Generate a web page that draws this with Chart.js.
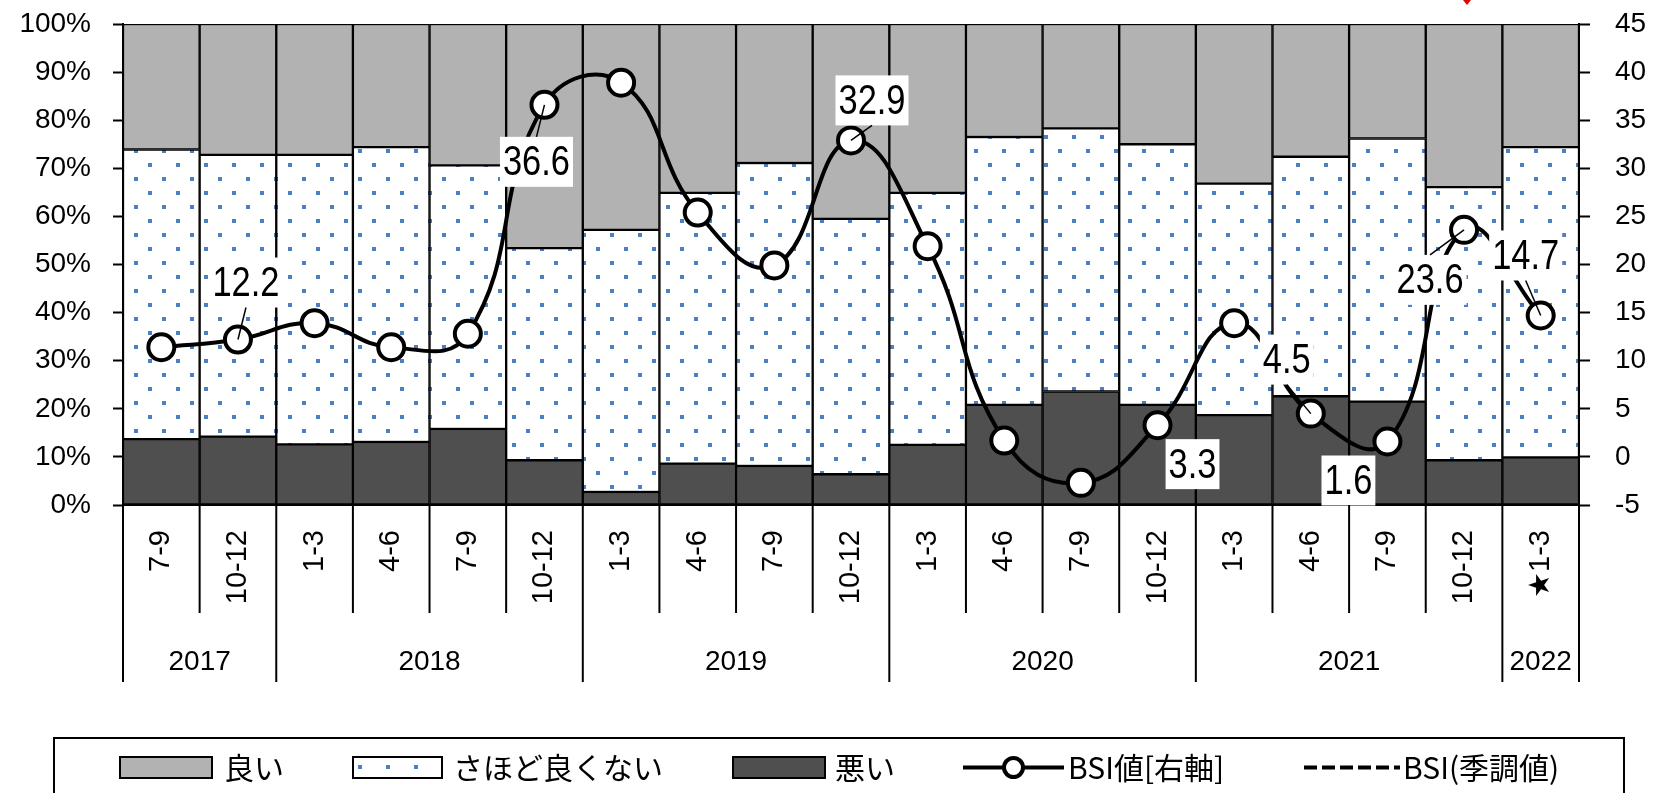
<!DOCTYPE html>
<html><head><meta charset="utf-8">
<script src="https://cdn.jsdelivr.net/npm/chart.js@4.4.1/dist/chart.umd.min.js"></script>
<style>html,body{margin:0;padding:0;background:#fff;}#wrap{width:1653px;height:793px;position:relative;}</style>
</head><body><div id="wrap"><canvas id="c"></canvas></div>
<script>
// ---- data ----
const quarters = ['7-9','10-12','1-3','4-6','7-9','10-12','1-3','4-6','7-9','10-12','1-3','4-6','7-9','10-12','1-3','4-6','7-9','10-12','★1-3'];
const yearLabels = ['2017','2018','2019','2020','2021','2022'];
const yearSpans = [2,4,4,4,4,1];
const badPct     = [13.7,14.2,12.6,13.1,15.8, 9.3, 2.7, 8.6, 8.1, 6.4,12.5,20.8,23.6,20.8,18.7,22.6,21.5, 9.3, 9.9];
const notGoodPct = [60.2,58.6,60.2,61.3,54.8,44.1,54.5,56.3,63.0,53.1,52.4,55.7,54.7,54.2,48.1,49.8,54.7,56.8,64.5];
const goodPct    = [26.1,27.2,27.2,25.6,29.4,46.6,42.8,35.1,28.9,40.5,35.1,23.5,21.7,25.0,33.2,27.6,23.8,33.9,25.6];
const bsi        = [11.4,12.2,13.9,11.4,12.8,36.6,38.9,25.4,19.9,32.9,21.9, 1.7,-2.7, 3.3,13.9, 4.5, 1.6,23.6,14.7];
const bsiSA      = [null,null,null,null,null,null,null,null,null,null,null,null,null,null,null,null,null,null,null];
const labeledPoints = [1,5,9,13,15,16,17,18];
const seriesNames = {good:'良い', notGood:'さほど良くない', bad:'悪い', bsi:'BSI値[右軸]', bsiSA:'BSI(季調値)'};

// ---- label placement (offset of label box centre from its point) ----
const labelPlacement = {
  1:{dx:8,dy:-57,leader:true}, 5:{dx:-8,dy:57,leader:true}, 9:{dx:21,dy:-40,leader:true},
  13:{dx:35,dy:39,leader:false}, 15:{dx:-24,dy:-54,leader:true}, 16:{dx:-39,dy:39,leader:false},
  17:{dx:-34,dy:50,leader:true}, 18:{dx:-15,dy:-60,leader:true}
};

const COL_GOOD='#b2b2b2', COL_BAD='#4f4f4f', COL_DOT='#4f7fc0';
function makeDots(){
  const c=document.createElement('canvas'); c.width=28; c.height=28;
  const x=c.getContext('2d'); x.fillStyle='#fff'; x.fillRect(0,0,28,28);
  x.fillStyle=COL_DOT; x.fillRect(22,9,4,4); x.fillRect(8,23,4,4);
  return x.createPattern(c,'repeat');
}
const dots = makeDots();

const LABEL_FONT = '42px "Liberation Sans"';
const LABEL_SX = 0.82;

const valueLabels = {id:'valueLabels', afterDatasetsDraw(chart){
  const ctx=chart.ctx, meta=chart.getDatasetMeta(3);
  ctx.save();
  labeledPoints.forEach(idx=>{
    const p=meta.data[idx], pl=labelPlacement[idx];
    const text=bsi[idx].toFixed(1);
    ctx.font=LABEL_FONT;
    const tw=ctx.measureText(text).width*LABEL_SX;
    const cx=p.x+pl.dx, cy=p.y+pl.dy, bw=tw+6, bh=50;
    ctx.fillStyle='#fff'; ctx.fillRect(cx-bw/2,cy-bh/2,bw,bh);
    ctx.save(); ctx.translate(cx,cy+2); ctx.scale(LABEL_SX,1);
    ctx.fillStyle='#000'; ctx.textAlign='center'; ctx.textBaseline='middle';
    ctx.fillText(text,0,0); ctx.restore();
    if(pl.leader){
      const ey = p.y<cy ? cy-bh/2 : cy+bh/2;
      ctx.strokeStyle='#000'; ctx.lineWidth=1.5;
      ctx.beginPath(); ctx.moveTo(p.x,p.y); ctx.lineTo(cx,ey); ctx.stroke();
    }
  });
  ctx.restore();
}};

const decor = {id:'decor', afterDraw(chart){
  const ctx=chart.ctx, xs=chart.scales.x, area=chart.chartArea;
  const w=xs.getPixelForValue(1)-xs.getPixelForValue(0);
  const x0=xs.getPixelForValue(0)-w/2;
  const yb=new Set(); let k=0; yb.add(0); yearSpans.forEach(s=>{k+=s; yb.add(k);});
  ctx.save();
  ctx.strokeStyle='#000'; ctx.lineWidth=2;
  for(let i=0;i<=quarters.length;i++){
    const x=x0+i*w; const len=yb.has(i)?177:108;
    ctx.beginPath(); ctx.moveTo(x,area.bottom); ctx.lineTo(x,area.bottom+len); ctx.stroke();
  }
  ctx.fillStyle='#000'; ctx.font='28px "Liberation Sans"'; ctx.textAlign='center'; ctx.textBaseline='middle';
  let s=0;
  yearLabels.forEach((y,j)=>{ const xa=x0+s*w, xe=x0+(s+yearSpans[j])*w; ctx.fillText(y,(xa+xe)/2,area.bottom+157); s+=yearSpans[j]; });
  // red mark at top (cut-off annotation)
  ctx.fillStyle='#e00000'; ctx.beginPath(); ctx.moveTo(1463,0); ctx.lineTo(1471,0); ctx.lineTo(1467,5); ctx.closePath(); ctx.fill();
  // legend
  const L=54, T=738, R=1624;
  ctx.lineWidth=2; ctx.strokeStyle='#000'; ctx.strokeRect(L,T,R-L,120);
  const cy=767.5;
  ctx.font='30px "Noto Sans CJK JP"'; ctx.textAlign='left'; ctx.textBaseline='middle';
  function box(x1,x2,fill,label,tx){
    ctx.fillStyle=fill; ctx.fillRect(x1,757,x2-x1,21);
    ctx.lineWidth=2; ctx.strokeStyle='#000'; ctx.strokeRect(x1,757,x2-x1,21);
    ctx.fillStyle='#000'; ctx.fillText(label,tx,cy);
  }
  box(120,212,COL_GOOD,seriesNames.good,224);
  box(353,442,dots,seriesNames.notGood,453);
  box(733,825,COL_BAD,seriesNames.bad,835);
  ctx.strokeStyle='#000'; ctx.lineWidth=4;
  ctx.beginPath(); ctx.moveTo(963,cy); ctx.lineTo(1064,cy); ctx.stroke();
  ctx.beginPath(); ctx.arc(1013.5,cy,9.5,0,Math.PI*2); ctx.fillStyle='#fff'; ctx.fill(); ctx.stroke();
  ctx.fillStyle='#000'; ctx.fillText(seriesNames.bsi,1068,cy);
  ctx.setLineDash([13,5]); ctx.beginPath(); ctx.moveTo(1304,cy); ctx.lineTo(1400,cy); ctx.stroke(); ctx.setLineDash([]);
  ctx.fillText(seriesNames.bsiSA,1403,cy);
  ctx.restore();
}};

function noPad(s){ s.paddingTop=0; s.paddingBottom=0; s.paddingLeft=0; s.paddingRight=0; }
const barCommon = {borderColor:'#000', borderWidth:1.5, borderSkipped:false, barPercentage:1, categoryPercentage:1, yAxisID:'y', order:1};
new Chart(document.getElementById('c'), {
  type:'bar',
  data:{ labels:quarters, datasets:[
    Object.assign({label:seriesNames.bad, data:badPct, backgroundColor:COL_BAD}, barCommon),
    Object.assign({label:seriesNames.notGood, data:notGoodPct, backgroundColor:dots}, barCommon),
    Object.assign({label:seriesNames.good, data:goodPct, backgroundColor:COL_GOOD}, barCommon),
    {type:'line', label:seriesNames.bsi, data:bsi, yAxisID:'y1', order:0, borderColor:'#000', borderWidth:4, tension:0.45,
     pointRadius:13, pointHoverRadius:13, pointBorderWidth:4, pointBackgroundColor:'#fff', pointBorderColor:'#000', fill:false, clip:false},
    {type:'line', label:seriesNames.bsiSA, data:bsiSA, yAxisID:'y1', order:0, borderColor:'#000', borderWidth:4, borderDash:[13,5], pointRadius:0, fill:false}
  ]},
  options:{
    responsive:true, maintainAspectRatio:false, animation:false,
    layout:{padding:{top:24,left:0,right:0,bottom:0}},
    plugins:{legend:{display:false}, tooltip:{enabled:false}},
    scales:{
      x:{stacked:true, offset:true,
         grid:{display:true, drawOnChartArea:false, drawTicks:false},
         border:{display:true, color:'#000', width:2},
         ticks:{autoSkip:false, minRotation:90, maxRotation:90, padding:25, color:'#000', font:{family:'Liberation Sans', size:29}},
         afterFit(s){s.height=288; noPad(s);}},
      y:{stacked:true, position:'left', min:0, max:100,
         ticks:{stepSize:10, padding:22, color:'#000', font:{family:'Liberation Sans', size:28}, callback:v=>v+'%'},
         grid:{drawOnChartArea:false, drawTicks:true, tickLength:10, tickColor:'#000', tickWidth:2},
         border:{display:true, color:'#000', width:2},
         afterFit(s){s.width=123; noPad(s);}},
      y1:{position:'right', min:-5, max:45,
         ticks:{stepSize:5, padding:25, color:'#000', font:{family:'Liberation Sans', size:28}},
         grid:{drawOnChartArea:false, drawTicks:true, tickLength:11, tickColor:'#000', tickWidth:2},
         border:{display:true, color:'#000', width:2},
         afterFit(s){s.width=74; noPad(s);}}
    }
  },
  plugins:[valueLabels, decor]
});
</script></body></html>
